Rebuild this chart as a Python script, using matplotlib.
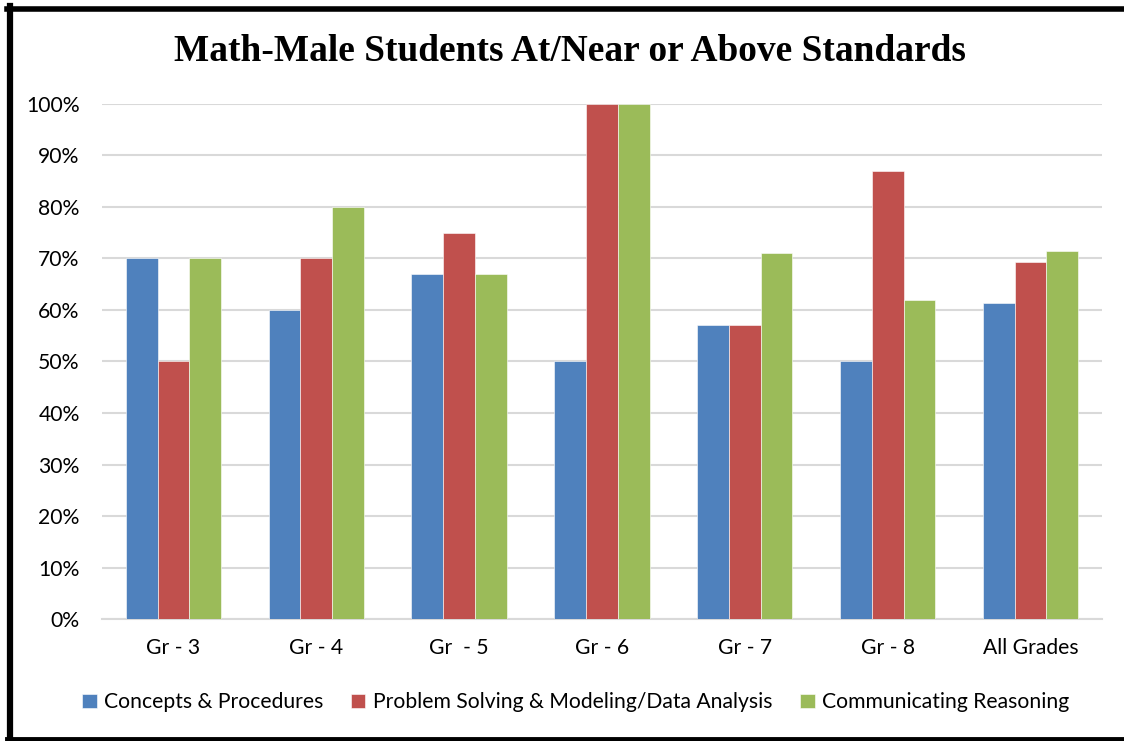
import numpy as np
import matplotlib.pyplot as plt
from matplotlib.lines import Line2D

grades = ['Gr - 3', 'Gr - 4', 'Gr  - 5', 'Gr - 6', 'Gr - 7', 'Gr - 8', 'All Grades']
concepts = [70, 60, 67, 50, 57, 50, 61.4]
problem = [50, 70, 75, 100, 57, 87, 69.3]
reasoning = [70, 80, 67, 100, 71, 62, 71.4]
series_names = ['Concepts & Procedures',
                'Problem Solving & Modeling/Data Analysis',
                'Communicating Reasoning']
colors = ['#4F81BD', '#C0504D', '#9BBB59']

plt.rcParams['font.family'] = ['Lato', 'DejaVu Sans']

fig = plt.figure(figsize=(11.24, 7.41), dpi=100)
ax = fig.add_axes([0.0907, 0.1646, 0.8897, 0.6951])

x = np.arange(len(grades))
w = 1 / 4.5
for i, (vals, name, c) in enumerate(zip([concepts, problem, reasoning], series_names, colors)):
    ax.bar(x + (i - 1) * w, np.array(vals) / 100, w, color=c, label=name,
           edgecolor='#FFFFFF', linewidth=0.4, zorder=3)

ax.set_xlim(-0.5, len(grades) - 0.5)
ax.set_ylim(0, 1)
ax.set_yticks(np.arange(0, 1.01, 0.1))
ax.set_yticklabels([f'{v}%' for v in range(0, 101, 10)])
ax.set_xticks(x)
ax.set_xticklabels(grades)
ax.tick_params(length=0, labelsize=15.2, colors='#000000')
ax.tick_params(axis='y', pad=16)
ax.tick_params(axis='x', pad=14)
ax.grid(axis='y', color='#D9D9D9', linewidth=1.5, zorder=0)
for s in ['top', 'right', 'left']:
    ax.spines[s].set_visible(False)
ax.spines['bottom'].set_color('#D9D9D9')
ax.spines['bottom'].set_linewidth(1.5)

fig.text(0.507, 0.93, 'Math-Male Students At/Near or Above Standards',
         family='Liberation Serif', fontweight='bold', fontsize=26.9,
         ha='center', va='center')

leg = fig.legend(loc='center', bbox_to_anchor=(0.512, 0.052), ncol=3, frameon=False,
                 fontsize=15.2, handlelength=0.7, handleheight=0.7,
                 handletextpad=0.35, columnspacing=1.3)

# frame lines around the chart area
fig.add_artist(Line2D([10 / 1124, 10 / 1124], [0, 1 - 6 / 741], transform=fig.transFigure,
                      color='black', linewidth=4.5))
fig.add_artist(Line2D([7 / 1124, 1], [1 - 8.5 / 741, 1 - 8.5 / 741], transform=fig.transFigure,
                      color='black', linewidth=4))
fig.add_artist(Line2D([7 / 1124, 1], [2 / 741, 2 / 741], transform=fig.transFigure,
                      color='black', linewidth=3.5))

fig.savefig('out.png', dpi=100)
